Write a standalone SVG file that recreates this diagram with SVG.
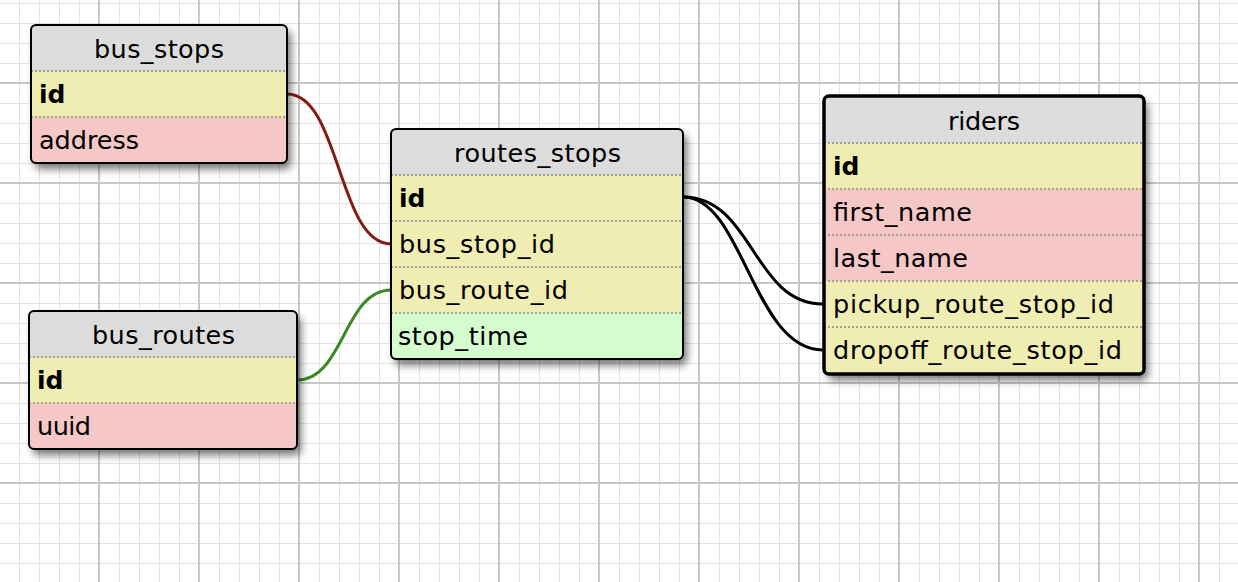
<svg xmlns="http://www.w3.org/2000/svg" width="1238" height="582" viewBox="0 0 1238 582">
<style>
.t{font-family:"DejaVu Sans",Verdana,sans-serif;font-size:25.5px;fill:#000}
.b{font-weight:bold;font-size:25px}
.hd{fill:#dcdcdc}
.yl{fill:#efedb2}
.pk{fill:#f6c7c7}
.gr{fill:#d4fccf}
.sep{stroke:#8c8c8c;stroke-width:1.5;stroke-dasharray:2 2;fill:none}
.box{fill:none;stroke:#000;stroke-width:2}
.sel{stroke-width:3.5}
.con{fill:none;stroke-width:3}
</style>
<defs>
<pattern id="minor" width="20" height="20" patternUnits="userSpaceOnUse" x="19" y="3">
<path d="M0 0.5H20M0.5 0V20" stroke="#e3e3e3" stroke-width="1" fill="none"/>
</pattern>
<pattern id="major" width="100" height="100" patternUnits="userSpaceOnUse" x="98" y="82">
<path d="M0 1H100M1 0V100" stroke="#c8c8c8" stroke-width="2" fill="none"/>
</pattern>
<filter id="sh" x="-20%" y="-20%" width="140%" height="150%">
<feDropShadow dx="4" dy="6" stdDeviation="4.5" flood-color="#000" flood-opacity="0.55"/>
</filter>
<clipPath id="c1"><rect x="31" y="25" width="256" height="138" rx="5"/></clipPath>
<clipPath id="c2"><rect x="391" y="129" width="292" height="230" rx="5"/></clipPath>
<clipPath id="c3"><rect x="824" y="96" width="320" height="278" rx="5"/></clipPath>
<clipPath id="c4"><rect x="29" y="311" width="268" height="138" rx="5"/></clipPath>
</defs>
<rect width="1238" height="582" fill="#fff"/>
<rect width="1238" height="582" fill="url(#minor)"/>
<rect width="1238" height="582" fill="url(#major)"/>

<g id="connectors">
<path class="con" stroke="#7f1f17" d="M287,94 C340,94 338,244 391,244"/>
<path class="con" stroke="#3d8a24" d="M297,380 C344,380 344,290 391,290"/>
<path class="con" stroke="#000" d="M683,197 C753,197 753,304 823,304"/>
<path class="con" stroke="#000" d="M683,197 C743,197 753,350 823,350"/>
</g>

<g id="bus_stops">
<rect x="31" y="25" width="256" height="138" rx="5" fill="#fff" filter="url(#sh)"/>
<g clip-path="url(#c1)">
<rect class="hd" x="31" y="25" width="256" height="46"/>
<rect class="yl" x="31" y="71" width="256" height="46"/>
<rect class="pk" x="31" y="117" width="256" height="46"/>
</g>
<path class="sep" d="M31 71H287M31 117H287"/>
<rect class="box" x="31" y="25" width="256" height="138" rx="5"/>
<text class="t" x="94" y="58" textLength="130" lengthAdjust="spacing">bus_stops</text>
<text class="t b" x="39" y="103">id</text>
<text class="t" x="39" y="149" textLength="100" lengthAdjust="spacing">address</text>
</g>

<g id="routes_stops">
<rect x="391" y="129" width="292" height="230" rx="5" fill="#fff" filter="url(#sh)"/>
<g clip-path="url(#c2)">
<rect class="hd" x="391" y="129" width="292" height="46"/>
<rect class="yl" x="391" y="175" width="292" height="138"/>
<rect class="gr" x="391" y="313" width="292" height="46"/>
</g>
<path class="sep" d="M391 175H683M391 221H683M391 267H683M391 313H683"/>
<rect class="box" x="391" y="129" width="292" height="230" rx="5"/>
<text class="t" x="454" y="162" textLength="167" lengthAdjust="spacing">routes_stops</text>
<text class="t b" x="399" y="207">id</text>
<text class="t" x="399" y="253" textLength="156" lengthAdjust="spacing">bus_stop_id</text>
<text class="t" x="399" y="299" textLength="169" lengthAdjust="spacing">bus_route_id</text>
<text class="t" x="398" y="345" textLength="130" lengthAdjust="spacing">stop_time</text>
</g>

<g id="riders">
<rect x="824" y="96" width="320" height="278" rx="5" fill="#fff" filter="url(#sh)"/>
<g clip-path="url(#c3)">
<rect class="hd" x="824" y="96" width="320" height="47"/>
<rect class="yl" x="824" y="143" width="320" height="46"/>
<rect class="pk" x="824" y="189" width="320" height="92"/>
<rect class="yl" x="824" y="281" width="320" height="93"/>
</g>
<path class="sep" d="M824 143H1144M824 189H1144M824 235H1144M824 281H1144M824 327H1144"/>
<rect class="box sel" x="824" y="96" width="320" height="278" rx="5"/>
<text class="t" x="948" y="130" textLength="72" lengthAdjust="spacing">riders</text>
<text class="t b" x="833" y="175">id</text>
<text class="t" x="833" y="221" textLength="139" lengthAdjust="spacing">first_name</text>
<text class="t" x="833" y="267" textLength="135" lengthAdjust="spacing">last_name</text>
<text class="t" x="833" y="313" textLength="281" lengthAdjust="spacing">pickup_route_stop_id</text>
<text class="t" x="833" y="359" textLength="289" lengthAdjust="spacing">dropoff_route_stop_id</text>
</g>

<g id="bus_routes">
<rect x="29" y="311" width="268" height="138" rx="5" fill="#fff" filter="url(#sh)"/>
<g clip-path="url(#c4)">
<rect class="hd" x="29" y="311" width="268" height="46"/>
<rect class="yl" x="29" y="357" width="268" height="46"/>
<rect class="pk" x="29" y="403" width="268" height="46"/>
</g>
<path class="sep" d="M29 357H297M29 403H297"/>
<rect class="box" x="29" y="311" width="268" height="138" rx="5"/>
<text class="t" x="92" y="344" textLength="143" lengthAdjust="spacing">bus_routes</text>
<text class="t b" x="37" y="389">id</text>
<text class="t" x="37" y="435" textLength="54" lengthAdjust="spacing">uuid</text>
</g>
</svg>
